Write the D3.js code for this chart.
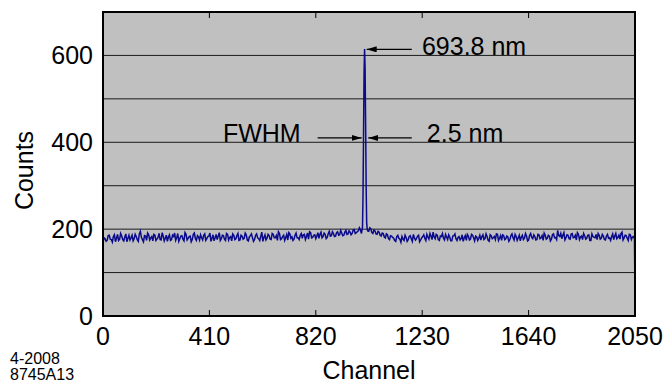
<!DOCTYPE html>
<meta charset="utf-8">
<script src="https://d3js.org/d3.v7.min.js"></script>
<style>
  body { margin: 0; background: #fff; }
  text { font-family: "Liberation Sans", Arial, sans-serif; fill: #000; }
</style>
<div id="chart"></div>
<script>

// counts read every 8 channels (0 .. 2048)
var step = 8;
var counts = [
  170, 178, 174, 186, 176, 183, 171, 188, 177, 184, 173, 189, 179, 175, 186, 178,
  183, 172, 195, 176, 185, 174, 187, 180, 173, 186, 177, 190, 175, 184, 179, 172,
  187, 176, 183, 174, 190, 178, 185, 173, 188, 179, 184, 176, 191, 174, 182, 187,
  175, 189, 178, 184, 172, 187, 180, 176, 192, 178, 185, 174, 188, 181, 173, 186,
  178, 190, 175, 184, 179, 187, 173, 185, 180, 176, 189, 178, 184, 172, 187, 179,
  185, 176, 188, 180, 174, 190, 178, 186, 181, 175, 189, 182, 177, 191, 180, 186,
  179, 188, 183, 177, 192, 181, 187, 184, 179, 193, 183, 188, 181, 195, 185, 190,
  184, 194, 187, 191, 186, 197, 189, 193, 190, 199, 192, 196, 198, 200, 205, 199,
  195, 201, 190, 196, 188, 193, 184, 190, 180, 187, 176, 184, 179, 172, 186, 177,
  183, 174, 181, 176, 185, 172, 180, 178, 186, 175, 183, 179, 188, 177, 184, 193,
  178, 186, 174, 183, 179, 188, 176, 182, 173, 185, 178, 181, 175, 187, 180, 174,
  184, 177, 186, 173, 182, 179, 175, 187, 178, 183, 172, 185, 180, 176, 188, 179,
  174, 185, 178, 182, 176, 189, 175, 183, 180, 173, 186, 179, 184, 175, 190, 178,
  183, 176, 187, 180, 174, 186, 179, 184, 177, 189, 181, 197, 183, 178, 192, 180,
  186, 177, 190, 181, 175, 188, 182, 176, 185, 179, 187, 174, 183, 180, 176, 186,
  179, 184, 175, 188, 180, 183, 176, 190, 181, 177, 193, 180, 185, 174, 187, 182,
  178
];

// counts read in between, at channels 4, 12, 20 .. 2044
var countsMid = [
  180, 172, 185, 177, 170, 187, 179, 174, 190, 176, 182, 171, 186, 180, 173, 188,
  176, 189, 181, 171, 184, 191, 175, 183, 188, 174, 181, 176, 192, 173, 186, 182,
  174, 186, 191, 180, 172, 184, 177, 192, 175, 183, 171, 188, 178, 185, 175, 180,
  186, 174, 183, 191, 179, 173, 188, 184, 174, 186, 177, 190, 175, 183, 189, 176,
  185, 174, 186, 177, 191, 175, 182, 189, 172, 186, 180, 174, 193, 181, 175, 188,
  177, 190, 180, 185, 194, 176, 183, 174, 188, 192, 179, 174, 186, 180, 176, 190,
  187, 176, 191, 194, 180, 186, 178, 192, 188, 180, 191, 178, 190, 184, 194, 183,
  192, 186, 197, 185, 193, 188, 196, 187, 198, 190, 194, 203, 190, 200, 240, 196,
  203, 192, 198, 189, 195, 186, 191, 182, 189, 178, 185, 181, 174, 183, 179, 170,
  177, 186, 172, 183, 178, 188, 175, 184, 171, 180, 187, 174, 182, 190, 176, 182,
  188, 176, 184, 190, 175, 182, 187, 173, 184, 189, 174, 183, 178, 172, 185, 188,
  175, 188, 180, 184, 174, 186, 183, 176, 189, 174, 187, 178, 183, 189, 174, 185,
  187, 176, 184, 172, 185, 180, 188, 174, 186, 182, 176, 190, 173, 186, 181, 187,
  175, 188, 178, 185, 191, 177, 186, 173, 187, 180, 176, 185, 190, 186, 175, 187,
  178, 189, 180, 186, 192, 176, 184, 190, 177, 186, 174, 189, 181, 188, 190, 177,
  188, 176, 184, 179, 174, 189, 184, 178, 186, 190, 175, 186, 179, 188, 176, 183
];

// finer readings around the line and at the last channel
var detailChannels = [1000, 1002, 1004, 1006, 1008, 1010, 1012, 1014, 1016, 1018, 2050];
var detailCounts   = [ 205,  280,  420,  560,  615,  570,  440,  300,  215,  200,   38];

var xTicks = [0, 410, 820, 1230, 1640, 2050];
var yTicks = [0, 200, 400, 600];
var gridValues = [100, 200, 300, 400, 500, 600];

var peakLabel = "693.8 nm";
var fwhmLabel = "FWHM";
var widthLabel = "2.5 nm";
var stamp = ["4-2008", "8745A13"];

var width = 666, height = 383;
var margin = {top: 12, right: 31, bottom: 67, left: 103};
var fs = "25px";

var svg = d3.select("#chart").append("svg")
    .attr("width", width)
    .attr("height", height);

var x = d3.scaleLinear().domain([0, 2050]).range([margin.left, width - margin.right]);
var y = d3.scaleLinear().domain([0, 700]).range([height - margin.bottom, margin.top]);

// build the spectrum
var data = [];
counts.forEach(function(c, i) { data.push({ch: i * step, v: c}); });
countsMid.forEach(function(c, i) { data.push({ch: i * step + step / 2, v: c}); });
data = data.filter(function(d) { return d.ch < 999 || d.ch > 1019; });
detailChannels.forEach(function(ch, i) { data.push({ch: ch, v: detailCounts[i]}); });
data.sort(function(a, b) { return a.ch - b.ch; });

// background
svg.append("rect")
    .attr("x", x(0)).attr("y", y(700))
    .attr("width", x(2050) - x(0)).attr("height", y(0) - y(700))
    .attr("fill", "#c0c0c0");

// grid lines
svg.selectAll(".grid").data(gridValues).enter().append("line")
    .attr("x1", x(0)).attr("x2", x(2050))
    .attr("y1", function(d) { return y(d); })
    .attr("y2", function(d) { return y(d); })
    .attr("stroke", "#1a1a1a").attr("stroke-width", 1);

// inner ticks top and bottom
svg.selectAll(".tb").data(xTicks.slice(1, -1)).enter().append("line")
    .attr("x1", function(d) { return x(d); }).attr("x2", function(d) { return x(d); })
    .attr("y1", y(0)).attr("y2", y(0) - 6)
    .attr("stroke", "#000");
svg.selectAll(".tt").data(xTicks.slice(1, -1)).enter().append("line")
    .attr("x1", function(d) { return x(d); }).attr("x2", function(d) { return x(d); })
    .attr("y1", y(700)).attr("y2", y(700) + 6)
    .attr("stroke", "#000");

// spectrum line
var line = d3.line()
    .x(function(d) { return x(d.ch); })
    .y(function(d) { return y(d.v); });

svg.append("path")
    .datum(data)
    .attr("d", line)
    .attr("fill", "none")
    .attr("stroke", "#0a0a8c")
    .attr("stroke-width", 1.5);

// frame
svg.append("rect")
    .attr("x", x(0)).attr("y", y(700))
    .attr("width", x(2050) - x(0)).attr("height", y(0) - y(700))
    .attr("fill", "none").attr("stroke", "#000").attr("stroke-width", 2);

// tick labels
svg.selectAll(".xl").data(xTicks).enter().append("text")
    .attr("x", function(d) { return x(d); })
    .attr("y", y(0) + 29)
    .attr("text-anchor", "middle")
    .style("font-size", fs)
    .text(function(d) { return d; });

svg.selectAll(".yl").data(yTicks).enter().append("text")
    .attr("x", x(0) - 10)
    .attr("y", function(d) { return y(d); })
    .attr("dy", "0.36em")
    .attr("text-anchor", "end")
    .style("font-size", fs)
    .text(function(d) { return d; });

// axis titles
svg.append("text")
    .attr("x", (x(0) + x(2050)) / 2)
    .attr("y", 379)
    .attr("text-anchor", "middle")
    .style("font-size", fs)
    .text("Channel");

svg.append("text")
    .attr("transform", "translate(33," + y(335) + ") rotate(-90)")
    .attr("text-anchor", "middle")
    .style("font-size", fs)
    .text("Counts");

// stamp
svg.selectAll(".stamp").data(stamp).enter().append("text")
    .attr("x", 10)
    .attr("y", function(d, i) { return 364 + i * 16; })
    .style("font-size", "16px")
    .text(function(d) { return d; });

// annotations
svg.append("defs").append("marker")
    .attr("id", "head")
    .attr("viewBox", "0 0 10 6")
    .attr("refX", 10).attr("refY", 3)
    .attr("markerWidth", 10).attr("markerHeight", 6)
    .attr("markerUnits", "userSpaceOnUse")
    .attr("orient", "auto")
  .append("path")
    .attr("d", "M0,0 L10,3 L0,6 Z")
    .attr("fill", "#000");

function arrow(ch0, ch1, v) {
  svg.append("line")
      .attr("x1", x(ch0)).attr("x2", x(ch1))
      .attr("y1", y(v)).attr("y2", y(v))
      .attr("stroke", "#000").attr("stroke-width", 1.2)
      .attr("marker-end", "url(#head)");
}

arrow(1190, 1016, 614);
arrow(827, 997, 410);
arrow(1190, 1022, 410);

svg.append("text").attr("x", x(1229)).attr("y", y(600))
    .style("font-size", fs).text(peakLabel);
svg.append("text").attr("x", x(462)).attr("y", y(400))
    .style("font-size", fs).text(fwhmLabel);
svg.append("text").attr("x", x(1248)).attr("y", y(400))
    .style("font-size", fs).text(widthLabel);

</script>
